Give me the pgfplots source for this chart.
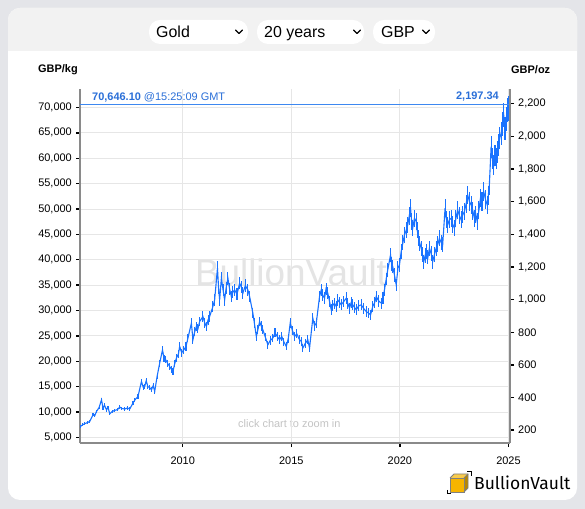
\documentclass[border=0pt]{standalone}
\usepackage{pgfplots}
\pgfplotsset{compat=1.18}
\usepackage{pgfplotstable}
\usepackage{fontspec}
\setmainfont{Liberation Sans}
\newfontfamily\logofont{Fira Sans}
\definecolor{outerbg}{HTML}{E4E5E9}
\definecolor{strip}{HTML}{F2F2F2}
\definecolor{series}{HTML}{1A73FF}
\definecolor{hline}{HTML}{3D88F0}
\definecolor{lbl}{HTML}{2A6FD8}
\definecolor{axgray}{HTML}{8A8A8A}
\definecolor{gridc}{HTML}{E6E6E6}
\definecolor{wm}{HTML}{E4E4E4}
\definecolor{hint}{HTML}{C4C4C4}
\definecolor{goldc}{HTML}{F7B500}

\pgfplotstableread{
year kg
2005.29 7165
2005.40 7500
2005.49 7700
2005.60 7900
2005.72 8150
2005.87 9470
2005.95 9300
2006.03 10120
2006.15 10900
2006.26 12420
2006.33 10790
2006.40 11300
2006.49 10460
2006.56 10900
2006.64 9660
2006.75 10100
2006.87 10320
2007.00 10500
2007.10 10980
2007.20 10700
2007.33 10590
2007.45 10800
2007.56 10590
2007.71 11770
2007.80 12400
2007.94 13070
2008.10 16020
2008.18 14900
2008.25 15040
2008.32 16200
2008.39 15040
2008.48 14800
2008.56 14390
2008.64 15200
2008.71 14060
2008.82 17010
2008.94 19640
2009.07 22260
2009.14 20500
2009.22 20290
2009.30 19600
2009.40 18970
2009.48 18400
2009.55 17990
2009.63 19500
2009.71 20630
2009.80 21400
2009.86 22930
2009.95 21700
2010.05 22260
2010.15 22900
2010.24 24570
2010.40 27520
2010.47 24240
2010.55 25800
2010.63 26850
2010.70 26400
2010.78 27840
2010.93 28820
2011.01 27600
2011.09 26850
2011.17 28200
2011.24 28820
2011.39 30790
2011.47 32100
2011.60 38350
2011.65 34500
2011.70 32100
2011.78 36380
2011.86 34000
2011.93 32100
2012.00 34500
2012.08 36380
2012.16 34200
2012.24 32760
2012.31 33600
2012.39 34070
2012.50 33200
2012.62 35390
2012.70 34600
2012.77 33420
2012.88 34900
2013.00 34070
2013.08 32760
2013.23 29490
2013.30 27500
2013.39 24880
2013.46 26200
2013.54 27840
2013.62 26900
2013.69 26200
2013.80 24800
2013.92 23250
2014.03 24100
2014.15 24570
2014.25 25600
2014.35 24900
2014.46 24240
2014.56 24900
2014.66 23800
2014.77 22930
2014.86 24500
2014.95 27520
2015.05 26100
2015.15 24880
2015.25 25400
2015.38 24240
2015.46 23900
2015.53 22600
2015.64 23500
2015.76 24240
2015.84 22600
2015.99 28500
2016.07 27000
2016.15 27520
2016.30 32760
2016.38 34070
2016.45 33000
2016.53 32430
2016.60 34300
2016.68 33420
2016.76 31800
2016.84 30140
2016.91 31000
2016.99 31460
2017.07 30800
2017.14 32100
2017.22 31600
2017.30 31130
2017.42 31800
2017.53 32430
2017.60 31400
2017.68 30470
2017.76 31600
2017.83 31130
2017.91 30600
2017.99 30140
2018.10 30900
2018.22 31130
2018.33 30400
2018.45 29810
2018.55 29500
2018.65 29150
2018.75 30800
2018.84 31600
2018.91 32760
2019.02 31900
2019.14 31460
2019.22 32500
2019.29 34070
2019.37 36200
2019.44 38010
2019.57 40960
2019.62 39200
2019.67 38660
2019.75 37000
2019.83 35060
2019.91 38350
2019.98 39000
2020.06 41620
2020.14 43400
2020.21 44900
2020.29 45800
2020.36 46870
2020.43 48600
2020.49 50150
2020.54 47600
2020.59 46220
2020.67 48200
2020.75 47530
2020.80 45800
2020.86 44250
2020.92 43200
2020.98 42280
2021.04 41000
2021.10 39640
2021.16 40800
2021.21 41620
2021.29 40500
2021.36 42280
2021.44 41200
2021.51 39640
2021.59 41000
2021.67 42280
2021.75 43100
2021.82 44250
2021.90 43400
2021.97 42940
2022.08 50150
2022.14 48000
2022.20 46870
2022.28 47900
2022.36 48180
2022.43 47000
2022.51 46220
2022.58 48200
2022.66 49820
2022.74 48700
2022.82 47860
2022.90 48900
2022.97 49490
2023.05 51000
2023.12 52780
2023.20 51500
2023.28 50810
2023.36 49600
2023.43 48180
2023.50 48900
2023.56 47530
2023.64 49800
2023.71 52120
2023.78 51500
2023.86 53430
2023.94 51900
2024.02 50810
2024.07 52600
2024.12 54750
2024.20 62280
2024.26 60000
2024.32 58680
2024.38 60500
2024.43 60000
2024.49 61200
2024.54 62620
2024.60 64000
2024.66 64920
2024.72 66800
2024.78 68520
2024.84 65900
2024.90 67800
2024.94 69510
2025.00 69800
2025.05 70646
}\goldtable

\begin{document}
\begin{tikzpicture}
\useasboundingbox (0,0) rectangle (585bp,509bp);
\fill[outerbg] (0,0) rectangle (585bp,509bp);
\fill[white, rounded corners=12bp] (8bp,9bp) rectangle (577bp,501bp);
\fill[strip, rounded corners=12bp] (8bp,458bp) rectangle (577bp,501bp);
\fill[strip] (8bp,458bp) rectangle (577bp,475bp);
% dropdowns
\fill[white, rounded corners=11bp] (149bp,465bp) rectangle (248bp,489bp);
\fill[white, rounded corners=11bp] (257bp,465bp) rectangle (364bp,489bp);
\fill[white, rounded corners=11bp] (373bp,465bp) rectangle (435bp,489bp);
\node[anchor=base west, inner sep=0pt, font=\fontsize{16}{18}\selectfont] at (156bp,471.5bp) {Gold};
\node[anchor=base west, inner sep=0pt, font=\fontsize{16}{18}\selectfont] at (264bp,471.5bp) {20 years};
\node[anchor=base west, inner sep=0pt, font=\fontsize{16}{18}\selectfont] at (381bp,471.5bp) {GBP};
\foreach \cx in {239,357,426}{
  \draw[line width=1.3bp, line cap=round, line join=round] (\cx bp-3.5bp,479bp) -- (\cx bp,475.5bp) -- (\cx bp+3.5bp,479bp);
}
% axis headers
\node[anchor=west, inner sep=0pt, font=\fontsize{11}{13}\selectfont\bfseries] at (38bp,439bp) {GBP/kg};
\node[anchor=west, inner sep=0pt, font=\fontsize{11}{13}\selectfont\bfseries] at (511bp,439bp) {GBP/oz};
% watermark and hint
\node[inner sep=0pt, text=wm, font=\fontsize{37}{40}\selectfont] at (291bp,237bp) {BullionVault};
\node[anchor=west, inner sep=0pt, text=hint, font=\fontsize{11}{13}\selectfont] at (238bp,85bp) {click chart to zoom in};

\begin{axis}[
  at={(80bp,66bp)}, anchor=south west,
  scale only axis, width=430bp, height=354bp,
  xmin=2005.27, xmax=2025.07, ymin=3899, ymax=73642,
  axis lines=left,
  axis line style={-, draw=axgray, line width=1.6bp},
  xtick={2010,2015,2020,2025},
  xticklabels={2010,2015,2020,2025},
  ytick={5000,10000,...,70000},
  scaled y ticks=false,
  /pgf/number format/fixed,
  /pgf/number format/1000 sep={,},
  /pgf/number format/assume math mode=true,
  tick label style={font=\fontsize{11}{13}\selectfont},
  xmajorgrids, ymajorgrids,
  grid style={draw=gridc, line width=1bp},
  tick align=outside,
  major tick length=4bp,
  tick style={draw=black, line width=1.4bp},
  yticklabel style={inner sep=1bp, xshift=-3bp},
  xticklabel style={inner sep=1bp, yshift=-9bp},
  clip=false,
]
\addplot[series, line width=1.1bp, error bars/.cd, y dir=both, y fixed relative=0.035, error bar style={series, line width=1.1bp}, error mark=none] table[x=year, y=kg] {\goldtable};
\addplot[hline, line width=1.4bp] coordinates {(2005.27,70646.1) (2025.07,70646.1)};
\end{axis}

\begin{axis}[
  at={(80bp,66bp)}, anchor=south west,
  scale only axis, width=430bp, height=354bp,
  xmin=2005.27, xmax=2025.07, ymin=121.27, ymax=2290.5,
  axis x line=none,
  axis y line*=right,
  axis line style={-, draw=axgray, line width=1.6bp},
  ytick={200,400,...,2200},
  scaled y ticks=false,
  /pgf/number format/fixed,
  /pgf/number format/1000 sep={,},
  /pgf/number format/assume math mode=true,
  tick label style={font=\fontsize{11}{13}\selectfont},
  tick align=outside,
  major tick length=4bp,
  tick style={draw=black, line width=1.4bp},
  yticklabel style={inner sep=1bp, xshift=3bp},
]
\addplot[draw=none] coordinates {(2010,1000)};
\end{axis}

\node[anchor=west, inner sep=0pt, text=lbl, font=\fontsize{11}{13}\selectfont] at (92bp,412bp) {\textbf{70,646.10} @15:25:09 GMT};
\node[anchor=east, inner sep=0pt, text=lbl, font=\fontsize{11}{13}\selectfont\bfseries] at (499bp,412bp) {2,197.34};

% logo
\begin{scope}[shift={(447bp,15bp)}]
  \fill[goldc] (3bp,2bp) rectangle (17bp,16bp);
  \fill[goldc!70!white] (3bp,16bp) -- (7bp,20bp) -- (21bp,20bp) -- (17bp,16bp) -- cycle;
  \fill[goldc!75!black] (17bp,2bp) -- (21bp,6bp) -- (21bp,20bp) -- (17bp,16bp) -- cycle;
  \draw[gray, line width=0.8bp] (3bp,2bp) rectangle (17bp,16bp);
  \draw[gray, line width=0.8bp] (3bp,16bp) -- (7bp,20bp) -- (21bp,20bp) -- (21bp,6bp) -- (17bp,2bp);
  \draw[gray, line width=0.8bp] (17bp,16bp) -- (21bp,20bp);
  \draw[black, line width=1bp] (0bp,4bp) -- (0bp,0bp) -- (4bp,0bp);
  \draw[black, line width=1bp] (20bp,22bp) -- (24bp,22bp) -- (24bp,18bp);
\end{scope}
\node[anchor=west, inner sep=0pt, font=\logofont\fontsize{17.5}{20}\selectfont] at (474bp,26bp) {BullionVault};
\end{tikzpicture}
\end{document}
